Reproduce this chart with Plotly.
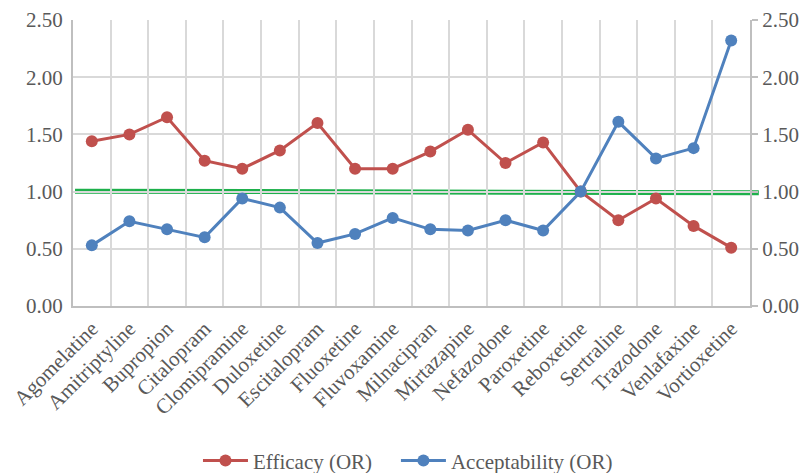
import plotly.graph_objects as go

drugs = ["Agomelatine", "Amitriptyline", "Bupropion", "Citalopram", "Clomipramine",
         "Duloxetine", "Escitalopram", "Fluoxetine", "Fluvoxamine", "Milnacipran",
         "Mirtazapine", "Nefazodone", "Paroxetine", "Reboxetine", "Sertraline",
         "Trazodone", "Venlafaxine", "Vortioxetine"]
efficacy = [1.44, 1.50, 1.65, 1.27, 1.20, 1.36, 1.60, 1.20, 1.20, 1.35,
            1.54, 1.25, 1.43, 1.00, 0.75, 0.94, 0.70, 0.51]
acceptability = [0.53, 0.74, 0.67, 0.60, 0.94, 0.86, 0.55, 0.63, 0.77, 0.67,
                 0.66, 0.75, 0.66, 1.00, 1.61, 1.29, 1.38, 2.32]
ref_line = [1.004, 0.989]
tick_vals = [0, 0.5, 1.0, 1.5, 2.0, 2.5]
tick_text = ["0.00", "0.50", "1.00", "1.50", "2.00", "2.50"]

RED = "#C0504D"
BLUE = "#4F81BD"
GREEN = "#1DB04B"
FONT = "Liberation Serif"
TXT = "#595959"
AXC = "#BFBFBF"
FS = 21

fig = go.Figure()
fig.add_trace(go.Scatter(x=drugs, y=efficacy, name="Efficacy (OR)", mode="lines+markers",
                         line=dict(color=RED, width=3), marker=dict(color=RED, size=12),
                         legend="legend"))
fig.add_trace(go.Scatter(x=drugs, y=acceptability, name="Acceptability (OR)", mode="lines+markers",
                         line=dict(color=BLUE, width=3), marker=dict(color=BLUE, size=12),
                         legend="legend2"))
# invisible trace to activate right axis
fig.add_trace(go.Scatter(x=drugs, y=acceptability, yaxis="y2", showlegend=False,
                         mode="lines", line=dict(width=0), hoverinfo="skip", opacity=0))

fig.add_shape(type="line", xref="paper", yref="y", x0=0.003, x1=1.013,
              y0=ref_line[0], y1=ref_line[1], line=dict(color=GREEN, width=5), layer="between")

axis_common = dict(range=[0, 2.5], tickvals=tick_vals, ticktext=tick_text,
                   tickfont=dict(family=FONT, size=FS, color=TXT),
                   showline=True, linecolor=AXC, linewidth=2,
                   zeroline=False, automargin=False)

leg_common = dict(xanchor="left", yref="container", y=0.026, yanchor="middle",
                  itemwidth=45,
                  bgcolor="rgba(0,0,0,0)", font=dict(family=FONT, size=FS, color=TXT))

fig.update_layout(
    width=801, height=465,
    margin=dict(l=65, r=59, t=12, b=167, autoexpand=False),
    plot_bgcolor="white", paper_bgcolor="white",
    font=dict(family=FONT, color=TXT),
    xaxis=dict(type="category", tickson="boundaries", showgrid=True, gridcolor="#D9D9D9",
               gridwidth=2, tickangle=-45, showline=True, linecolor=AXC, linewidth=2,
               ticks="", automargin=False,
               tickfont=dict(family=FONT, size=FS, color=TXT), range=[-0.5, 17.5]),
    yaxis=dict(showgrid=True, gridcolor="#D9D9D9", gridwidth=2, ticks="",
               ticklabelstandoff=4, **axis_common),
    yaxis2=dict(overlaying="y", side="right", showgrid=False, ticks="outside",
                tickcolor=AXC, ticklen=6, tickwidth=2, **axis_common),
    legend=dict(x=0.1846, **leg_common),
    legend2=dict(x=0.477, **leg_common),
    showlegend=True,
)

fig.write_html("out.html")
